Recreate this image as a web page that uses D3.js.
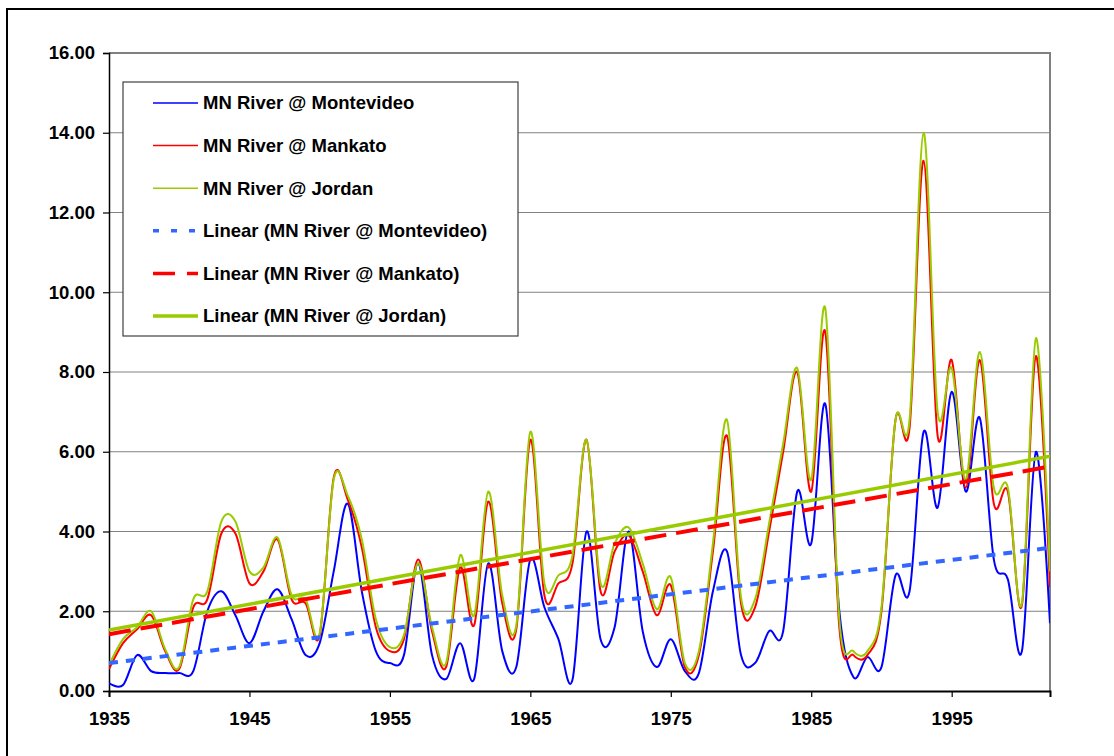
<!DOCTYPE html>
<html>
<head>
<meta charset="utf-8">
<script src="https://cdn.jsdelivr.net/npm/d3@7/dist/d3.min.js"></script>
<style>
  html, body { margin: 0; padding: 0; background: #fff; }
  svg { display: block; }
  text { font-family: "Liberation Sans", Arial, sans-serif; font-weight: bold; fill: #000; }
</style>
</head>
<body>
<svg id="chart" width="1114" height="756"></svg>
<script>
// Annual values, 1935-2002
const years = d3.range(1935, 2003);

const montevideo = [
  0.20, 0.15, 0.90, 0.50, 0.45, 0.45, 0.50, 2.00, 2.50, 1.90,
  1.20, 2.00, 2.55, 1.80, 0.90, 1.20, 3.00, 4.70, 2.50, 1.00,
  0.70, 0.90, 3.20, 0.90, 0.30, 1.20, 0.30, 3.20, 1.00, 0.60,
  3.30, 2.10, 1.30, 0.28, 4.00, 1.30, 1.60, 4.00, 1.50, 0.60,
  1.30, 0.50, 0.45, 2.50, 3.50, 0.90, 0.70, 1.50, 1.50, 5.00,
  3.70, 7.20, 2.00, 0.35, 0.85, 0.60, 2.90, 2.50, 6.50, 4.60,
  7.50, 5.00, 6.85, 3.30, 2.80, 1.00, 6.00, 1.70
];

const mankato = [
  0.55, 1.20, 1.55, 1.90, 1.00, 0.55, 2.10, 2.30, 3.95, 3.95,
  2.70, 3.00, 3.80, 2.30, 2.20, 1.40, 5.35, 4.80, 3.60, 1.60,
  1.00, 1.30, 3.30, 1.50, 0.60, 3.10, 1.65, 4.75, 2.20, 1.55,
  6.30, 2.40, 2.70, 3.20, 6.30, 2.50, 3.50, 3.90, 3.00, 1.90,
  2.65, 0.60, 0.90, 3.50, 6.40, 2.20, 2.10, 4.00, 6.00, 8.00,
  5.00, 9.00, 1.60, 0.90, 0.90, 2.00, 6.80, 6.60, 13.30, 6.40,
  8.30, 5.10, 8.30, 4.70, 5.00, 2.15, 8.40, 2.60
];

const jordan = [
  0.65, 1.30, 1.60, 2.00, 1.05, 0.60, 2.30, 2.50, 4.25, 4.25,
  3.00, 3.10, 3.85, 2.40, 2.30, 1.45, 5.30, 4.90, 3.80, 1.80,
  1.10, 1.40, 3.20, 1.60, 0.70, 3.40, 1.90, 5.00, 2.40, 1.65,
  6.50, 2.70, 2.90, 3.40, 6.30, 2.70, 3.70, 4.10, 3.20, 2.05,
  2.85, 0.70, 1.00, 3.70, 6.80, 2.35, 2.30, 4.20, 6.20, 8.10,
  5.30, 9.60, 1.80, 1.00, 1.00, 2.10, 6.80, 6.80, 14.00, 7.00,
  8.10, 5.30, 8.50, 5.10, 5.10, 2.20, 8.85, 3.00
];

const yTicks = [0, 2, 4, 6, 8, 10, 12, 14, 16];
const xTickYears = [1935, 1945, 1955, 1965, 1975, 1985, 1995];

const seriesNames = ["MN River @ Montevideo", "MN River @ Mankato", "MN River @ Jordan"];
const trendNames = [
  "Linear (MN River @ Montevideo)",
  "Linear (MN River @ Mankato)",
  "Linear (MN River @ Jordan)"
];

// ---- layout ----
const svg = d3.select("#chart");
const plot = { left: 109, top: 53, right: 1050, bottom: 691 };

const x = d3.scaleLinear().domain([1935, 2002]).range([plot.left, plot.right]);
const y = d3.scaleLinear().domain([0, 16]).range([plot.bottom, plot.top]);

// outer chart frame
svg.append("rect")
  .attr("x", 7).attr("y", 9)
  .attr("width", 1130).attr("height", 770)
  .attr("fill", "#fff").attr("stroke", "#000").attr("stroke-width", 2);

// horizontal gridlines
svg.append("g")
  .selectAll("line")
  .data(yTicks.filter(d => d > 0 && d < 16))
  .join("line")
  .attr("x1", plot.left).attr("x2", plot.right)
  .attr("y1", d => y(d)).attr("y2", d => y(d))
  .attr("stroke", "#808080").attr("stroke-width", 1);

// plot area border (top, right)
svg.append("path")
  .attr("d", `M${plot.left},${plot.top}H${plot.right}V${plot.bottom}`)
  .attr("fill", "none").attr("stroke", "#808080").attr("stroke-width", 2);

// y axis
const yAxis = d3.axisLeft(y)
  .tickValues(yTicks)
  .tickSize(6)
  .tickPadding(8)
  .tickFormat(d3.format(".2f"));
const gy = svg.append("g").attr("transform", `translate(${plot.left},0)`).call(yAxis);
gy.select(".domain").attr("stroke", "#000").attr("stroke-width", 1.5);
gy.selectAll(".tick line").attr("stroke", "#000").attr("stroke-width", 1.2);
gy.selectAll(".tick text")
  .attr("font-size", 18.5).attr("fill", "#000")
  .attr("font-family", "'Liberation Sans', Arial, sans-serif")
  .attr("font-weight", "bold");

// x axis
const xAxis = d3.axisBottom(x)
  .tickValues(xTickYears)
  .tickSize(6)
  .tickPadding(15)
  .tickFormat(d3.format("d"));
const gx = svg.append("g").attr("transform", `translate(0,${plot.bottom})`).call(xAxis);
gx.select(".domain").attr("stroke", "#000").attr("stroke-width", 2);
gx.selectAll(".tick line").attr("stroke", "#000").attr("stroke-width", 1.2);
gx.selectAll(".tick text")
  .attr("font-size", 18.5).attr("fill", "#000")
  .attr("font-family", "'Liberation Sans', Arial, sans-serif")
  .attr("font-weight", "bold");

// clip for data lines
svg.append("clipPath").attr("id", "plotClip")
  .append("rect")
  .attr("x", plot.left).attr("y", plot.top - 2)
  .attr("width", plot.right - plot.left).attr("height", plot.bottom - plot.top + 2);

const smooth = d3.line()
  .x((d, i) => x(years[i]))
  .y(d => y(d))
  .curve(d3.curveCardinal.tension(0));

const dataLayer = svg.append("g").attr("clip-path", "url(#plotClip)");

const seriesStyles = [
  { values: montevideo, color: "#0000FF" },
  { values: mankato, color: "#FF0000" },
  { values: jordan, color: "#99CC00" }
];

seriesStyles.forEach(s => {
  dataLayer.append("path")
    .attr("d", smooth(s.values))
    .attr("fill", "none")
    .attr("stroke", s.color)
    .attr("stroke-width", 2)
    .attr("stroke-linejoin", "round");
});

// least-squares trend lines
function linearFit(xs, ys) {
  const mx = d3.mean(xs), my = d3.mean(ys);
  let num = 0, den = 0;
  xs.forEach((xv, i) => { num += (xv - mx) * (ys[i] - my); den += (xv - mx) * (xv - mx); });
  const slope = num / den;
  return t => my + slope * (t - mx);
}

const trendStyles = [
  { values: montevideo, color: "#3366FF", width: 4, dash: "9,8" },
  { values: mankato, color: "#FF0000", width: 4, dash: "22,10" },
  { values: jordan, color: "#99CC00", width: 3.5, dash: null }
];

trendStyles.forEach(s => {
  const f = linearFit(years, s.values);
  const x0 = years[0], x1 = years[years.length - 1];
  dataLayer.append("line")
    .attr("x1", x(x0)).attr("y1", y(f(x0)))
    .attr("x2", x(x1)).attr("y2", y(f(x1)))
    .attr("stroke", s.color)
    .attr("stroke-width", s.width)
    .attr("stroke-dasharray", s.dash);
});

// legend
const legend = svg.append("g");
legend.append("rect")
  .attr("x", 123).attr("y", 82).attr("width", 395).attr("height", 254)
  .attr("fill", "#fff").attr("stroke", "#404040").attr("stroke-width", 1.2);

const legendItems = [
  { name: seriesNames[0], color: "#0000FF", width: 1.5, dash: null },
  { name: seriesNames[1], color: "#FF0000", width: 1.5, dash: null },
  { name: seriesNames[2], color: "#99CC00", width: 1.5, dash: null },
  { name: trendNames[0], color: "#3366FF", width: 3.5, dash: "6,12" },
  { name: trendNames[1], color: "#FF0000", width: 3.5, dash: "22,12" },
  { name: trendNames[2], color: "#99CC00", width: 3.5, dash: null }
];

const rowY = d3.scalePoint().domain(d3.range(legendItems.length)).range([103, 316]);

const rows = legend.selectAll("g.row")
  .data(legendItems)
  .join("g").attr("class", "row")
  .attr("transform", (d, i) => `translate(0,${rowY(i)})`);

rows.append("line")
  .attr("x1", 153).attr("x2", 198).attr("y1", 0).attr("y2", 0)
  .attr("stroke", d => d.color)
  .attr("stroke-width", d => d.width)
  .attr("stroke-dasharray", d => d.dash);

rows.append("text")
  .attr("x", 203).attr("y", 0).attr("dy", "0.35em")
  .attr("font-size", 18.5)
  .text(d => d.name);
</script>
</body>
</html>
